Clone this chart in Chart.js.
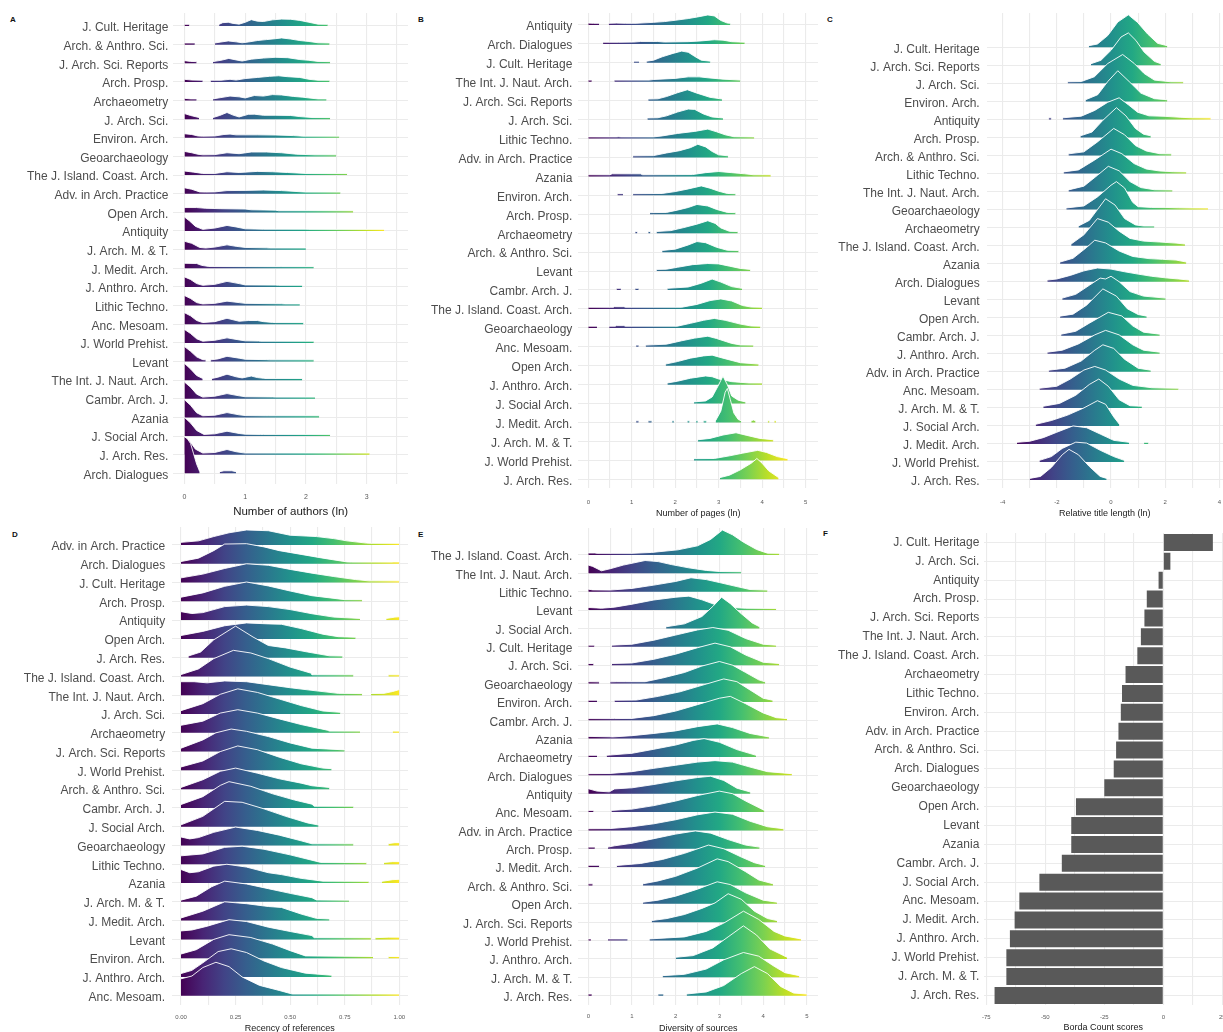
<!DOCTYPE html>
<html>
<head>
<meta charset="utf-8">
<script src="https://cdn.jsdelivr.net/npm/chart.js@4.4.1/dist/chart.umd.min.js"></script>
<style>
  html, body { margin: 0; padding: 0; background: #fff; overflow: hidden; width: 1223px; height: 1032px; }
  .tag { position: absolute; font: bold 8px 'Liberation Sans', Arial, sans-serif; color: #111; }
</style>
</head>
<body>
<div class="tag" style="left:10px;top:15px">A</div>
<div class="tag" style="left:418px;top:15px">B</div>
<div class="tag" style="left:827px;top:15px">C</div>
<div class="tag" style="left:12px;top:530px">D</div>
<div class="tag" style="left:418px;top:530px">E</div>
<div class="tag" style="left:823px;top:529px">F</div>
<script>
// ---- data (ridges: [x, height in row units], null = gap) ----
const labelsA = ['J. Cult. Heritage', 'Arch. & Anthro. Sci.', 'J. Arch. Sci. Reports', 'Arch. Prosp.', 'Archaeometry',
  'J. Arch. Sci.', 'Environ. Arch.', 'Geoarchaeology', 'The J. Island. Coast. Arch.', 'Adv. in Arch. Practice',
  'Open Arch.', 'Antiquity', 'J. Arch. M. & T.', 'J. Medit. Arch.', 'J. Anthro. Arch.', 'Lithic Techno.',
  'Anc. Mesoam.', 'J. World Prehist.', 'Levant', 'The Int. J. Naut. Arch.', 'Cambr. Arch. J.', 'Azania',
  'J. Social Arch.', 'J. Arch. Res.', 'Arch. Dialogues'];
const ridgesA = [
  [[0,0.06],[0.08,0.06],[0.3,null],[0.57,0.08],[0.63,0.18],[0.72,0.2],[0.8,0.14],[0.9,0.1],[1.0,0.2],[1.1,0.34],[1.2,0.26],[1.3,0.24],[1.45,0.33],[1.6,0.37],[1.75,0.36],[1.9,0.3],[2.05,0.2],[2.2,0.1],[2.36,0.06]],
  [[0,0.06],[0.17,0.06],[0.3,null],[0.5,0.06],[0.6,0.14],[0.72,0.2],[0.85,0.15],[0.95,0.1],[1.05,0.14],[1.2,0.22],[1.35,0.27],[1.5,0.32],[1.6,0.36],[1.75,0.3],[1.9,0.22],[2.05,0.17],[2.2,0.1],[2.39,0.06]],
  [[0,0.14],[0.1,0.1],[0.2,0.06],[0.3,null],[0.47,0.06],[0.6,0.16],[0.73,0.26],[0.85,0.18],[0.95,0.12],[1.1,0.22],[1.3,0.28],[1.5,0.32],[1.7,0.3],[1.9,0.2],[2.05,0.16],[2.2,0.1],[2.4,0.06]],
  [[0,0.14],[0.12,0.1],[0.3,0.06],[0.36,null],[0.43,0.06],[0.6,0.08],[0.75,0.14],[0.85,0.1],[1.0,0.18],[1.2,0.24],[1.4,0.3],[1.55,0.33],[1.7,0.28],[1.9,0.24],[2.05,0.14],[2.2,0.09],[2.39,0.06]],
  [[0,0.12],[0.1,0.09],[0.2,0.06],[0.3,null],[0.47,0.06],[0.6,0.16],[0.75,0.24],[0.9,0.2],[1.0,0.14],[1.15,0.27],[1.3,0.24],[1.45,0.32],[1.6,0.3],[1.8,0.22],[1.95,0.18],[2.1,0.12],[2.2,0.08],[2.34,0.06]],
  [[0,0.3],[0.1,0.2],[0.24,0.06],[0.35,null],[0.47,0.06],[0.58,0.2],[0.7,0.36],[0.8,0.22],[0.9,0.12],[1.05,0.26],[1.15,0.27],[1.3,0.21],[1.5,0.21],[1.75,0.2],[1.9,0.14],[2.1,0.09],[2.4,0.06]],
  [[0,0.22],[0.12,0.18],[0.22,0.1],[0.3,0.06],[0.5,0.1],[0.65,0.18],[0.75,0.2],[0.85,0.16],[1.2,0.16],[1.5,0.15],[1.8,0.12],[1.95,0.08],[2.15,0.07],[2.55,0.06]],
  [[0,0.27],[0.12,0.2],[0.22,0.12],[0.3,0.06],[0.5,0.1],[0.7,0.2],[0.9,0.15],[1.1,0.24],[1.35,0.24],[1.6,0.2],[1.85,0.12],[2.15,0.08],[2.5,0.06]],
  [[0,0.22],[0.15,0.16],[0.3,0.06],[0.5,0.09],[0.7,0.18],[0.9,0.14],[1.2,0.2],[1.45,0.18],[1.7,0.14],[2.0,0.08],[2.1,0.06],[2.68,0.06]],
  [[0,0.32],[0.12,0.24],[0.25,0.1],[0.35,0.07],[0.5,0.1],[0.7,0.17],[1.0,0.18],[1.3,0.2],[1.6,0.17],[1.95,0.1],[2.0,0.06],[2.57,0.06]],
  [[0,0.26],[0.2,0.26],[0.35,0.22],[0.6,0.2],[1.0,0.18],[1.1,0.14],[1.5,0.12],[1.55,0.08],[2.05,0.07],[2.78,0.06]],
  [[0,0.75],[0.08,0.55],[0.18,0.25],[0.3,0.06],[0.5,0.16],[0.7,0.3],[0.85,0.22],[1.0,0.12],[1.3,0.1],[2.0,0.1],[2.05,0.06],[3.29,0.06]],
  [[0,0.45],[0.12,0.34],[0.25,0.12],[0.35,0.06],[0.5,0.14],[0.7,0.26],[0.85,0.18],[1.0,0.12],[1.35,0.1],[1.4,0.06],[2.0,0.06]],
  [[0,0.27],[0.2,0.26],[0.28,0.16],[0.4,0.1],[1.58,0.09],[1.6,0.06],[2.13,0.06]],
  [[0,0.54],[0.1,0.4],[0.2,0.18],[0.3,0.06],[0.5,0.14],[0.7,0.3],[0.9,0.18],[1.0,0.11],[1.5,0.1],[1.55,0.06],[1.94,0.06]],
  [[0,0.54],[0.1,0.38],[0.2,0.16],[0.3,0.06],[0.5,0.12],[0.7,0.24],[0.9,0.16],[1.0,0.12],[1.6,0.1],[1.65,0.06],[1.9,0.06]],
  [[0,0.62],[0.1,0.45],[0.2,0.2],[0.3,0.06],[0.5,0.14],[0.7,0.32],[0.9,0.16],[1.05,0.2],[1.2,0.2],[1.3,0.14],[1.45,0.1],[1.5,0.06],[1.96,0.06]],
  [[0,0.72],[0.1,0.5],[0.2,0.22],[0.3,0.06],[0.5,0.14],[0.7,0.27],[0.9,0.16],[1.0,0.11],[1.22,0.1],[1.25,0.06],[2.13,0.06]],
  [[0,0.8],[0.1,0.55],[0.2,0.25],[0.3,0.1],[0.35,0.06],[0.38,null],[0.43,0.06],[0.55,0.14],[0.7,0.28],[0.9,0.18],[1.0,0.12],[1.35,0.1],[1.4,0.06],[2.13,0.06]],
  [[0,0.9],[0.1,0.6],[0.2,0.25],[0.3,0.06],[0.38,null],[0.45,0.06],[0.55,0.16],[0.7,0.32],[0.85,0.18],[0.95,0.12],[1.1,0.22],[1.2,0.14],[1.3,0.1],[1.32,0.06],[1.94,0.06]],
  [[0,0.9],[0.1,0.62],[0.2,0.25],[0.3,0.06],[0.5,0.14],[0.7,0.28],[0.9,0.16],[1.0,0.11],[1.45,0.1],[1.5,0.06],[2.15,0.06]],
  [[0,0.95],[0.1,0.65],[0.2,0.25],[0.3,0.06],[0.5,0.12],[0.7,0.26],[0.9,0.14],[1.0,0.1],[1.33,0.09],[1.38,0.06],[2.22,0.06]],
  [[0,1.0],[0.1,0.7],[0.2,0.3],[0.32,0.06],[0.5,0.12],[0.7,0.26],[0.9,0.14],[1.0,0.1],[1.25,0.09],[1.3,0.06],[2.4,0.06]],
  [[0,0.95],[0.08,0.75],[0.18,0.3],[0.3,0.08],[0.5,0.12],[0.7,0.28],[0.85,0.16],[0.97,0.1],[1.0,0.06],[3.05,0.06]],
  [[0,1.96],[0.05,1.85],[0.1,1.6],[0.15,1.05],[0.2,0.5],[0.25,0.1],[0.4,null],[0.58,0.08],[0.65,0.14],[0.78,0.14],[0.85,0.08]]
];
const gridA = [0, 0.5, 1, 1.5, 2, 2.5, 3, 3.5];
const ticksA = [0, 1, 2, 3];

const labelsB = ['Antiquity', 'Arch. Dialogues', 'J. Cult. Heritage', 'The Int. J. Naut. Arch.', 'J. Arch. Sci. Reports',
  'J. Arch. Sci.', 'Lithic Techno.', 'Adv. in Arch. Practice', 'Azania', 'Environ. Arch.', 'Arch. Prosp.',
  'Archaeometry', 'Arch. & Anthro. Sci.', 'Levant', 'Cambr. Arch. J.', 'The J. Island. Coast. Arch.',
  'Geoarchaeology', 'Anc. Mesoam.', 'Open Arch.', 'J. Anthro. Arch.', 'J. Social Arch.', 'J. Medit. Arch.',
  'J. Arch. M. & T.', 'J. World Prehist.', 'J. Arch. Res.'];
const ridgesB = [
  [[0,0.1],[0.12,0.08],[0.25,0.06],[0.35,null],[0.47,0.06],[0.65,0.1],[0.85,0.08],[1.1,0.08],[1.5,0.14],[1.75,0.18],[2.0,0.25],[2.3,0.34],[2.55,0.44],[2.75,0.53],[2.9,0.48],[3.05,0.24],[3.2,0.1],[3.27,0.06]],
  [[0.34,0.06],[0.7,0.08],[1.05,0.1],[1.2,0.13],[1.6,0.13],[1.75,0.1],[2.3,0.12],[2.6,0.16],[2.9,0.22],[3.1,0.2],[3.3,0.12],[3.6,0.06]],
  [[1.05,0.06],[1.17,0.06],[1.25,null],[1.34,0.06],[1.5,0.14],[1.7,0.32],[1.95,0.5],[2.15,0.62],[2.3,0.56],[2.45,0.34],[2.6,0.14],[2.81,0.06]],
  [[0,0.06],[0.08,0.06],[0.3,null],[0.6,0.06],[1.4,0.08],[1.5,0.12],[2.0,0.18],[2.3,0.26],[2.55,0.26],[2.8,0.2],[3.1,0.14],[3.5,0.06]],
  [[1.38,0.06],[1.6,0.1],[1.8,0.22],[2.05,0.42],[2.28,0.58],[2.5,0.4],[2.8,0.18],[3.08,0.06]],
  [[1.36,0.06],[1.6,0.1],[1.8,0.2],[2.05,0.4],[2.3,0.56],[2.45,0.54],[2.65,0.3],[2.85,0.14],[3.1,0.06]],
  [[0,0.06],[0.65,0.06],[0.7,0.1],[0.75,0.06],[1.5,0.08],[1.7,0.14],[2.05,0.27],[2.45,0.38],[2.75,0.5],[2.95,0.36],[3.15,0.2],[3.35,0.1],[3.82,0.06]],
  [[1.03,0.06],[1.5,0.1],[1.8,0.24],[2.1,0.36],[2.35,0.52],[2.52,0.7],[2.7,0.56],[2.85,0.32],[3.0,0.14],[3.22,0.06]],
  [[0,0.06],[0.5,0.06],[0.55,0.14],[1.2,0.14],[1.25,0.07],[2.4,0.1],[2.7,0.2],[3.0,0.26],[3.3,0.2],[3.6,0.14],[3.8,0.08],[4.2,0.06]],
  [[0.67,0.07],[0.8,0.07],[0.9,null],[1.03,0.06],[1.7,0.1],[2.0,0.2],[2.3,0.34],[2.6,0.5],[2.8,0.38],[3.0,0.22],[3.2,0.1],[3.39,0.06]],
  [[1.42,0.06],[1.8,0.1],[2.05,0.22],[2.3,0.36],[2.5,0.52],[2.75,0.44],[2.95,0.26],[3.2,0.1],[3.39,0.06]],
  [[1.08,0.06],[1.13,0.06],[1.2,null],[1.38,0.06],[1.43,0.06],[1.5,null],[1.57,0.06],[1.9,0.14],[2.2,0.3],[2.5,0.48],[2.75,0.66],[2.92,0.52],[3.05,0.28],[3.25,0.1],[3.44,0.06]],
  [[1.7,0.06],[2.0,0.16],[2.3,0.38],[2.5,0.56],[2.7,0.5],[2.95,0.26],[3.2,0.1],[3.46,0.06]],
  [[1.57,0.06],[1.8,0.1],[2.05,0.2],[2.4,0.34],[2.75,0.4],[3.0,0.38],[3.25,0.26],[3.5,0.14],[3.73,0.06]],
  [[0.65,0.06],[0.75,0.06],[0.9,null],[1.08,0.06],[1.16,0.06],[1.4,null],[1.82,0.06],[2.3,0.16],[2.6,0.36],[2.85,0.58],[3.05,0.42],[3.3,0.18],[3.54,0.06]],
  [[0,0.06],[0.58,0.06],[0.6,0.12],[0.82,0.12],[0.85,0.06],[2.15,0.08],[2.5,0.24],[2.8,0.44],[3.05,0.53],[3.3,0.42],[3.55,0.18],[3.75,0.1],[4.0,0.06]],
  [[0,0.07],[0.2,0.07],[0.3,null],[0.48,0.06],[0.62,0.06],[0.65,0.12],[0.82,0.12],[0.85,0.06],[2.05,0.08],[2.35,0.24],[2.65,0.4],[2.9,0.5],[3.15,0.4],[3.5,0.2],[3.75,0.1],[3.96,0.06]],
  [[1.1,0.06],[1.16,0.06],[1.22,null],[1.32,0.06],[1.8,0.14],[2.15,0.32],[2.45,0.46],[2.75,0.56],[2.95,0.44],[3.3,0.18],[3.5,0.1],[3.8,0.06]],
  [[1.78,0.06],[2.05,0.22],[2.35,0.4],[2.65,0.52],[2.85,0.56],[3.1,0.4],[3.5,0.16],[3.92,0.06]],
  [[1.82,0.06],[2.05,0.18],[2.35,0.34],[2.7,0.46],[2.85,0.42],[3.0,0.3],[3.3,0.16],[3.7,0.09],[4.0,0.06]],
  [[2.43,0.06],[2.7,0.14],[2.85,0.35],[2.98,0.9],[3.1,1.45],[3.2,1.0],[3.3,0.4],[3.45,0.18],[3.62,0.06]],
  [[1.1,0.06],[1.16,0.06],[1.25,null],[1.38,0.06],[1.46,0.06],[1.6,null],[1.93,0.06],[1.97,0.06],[2.1,null],[2.28,0.06],[2.33,0.06],[2.4,null],[2.48,0.08],[2.52,0.06],[2.58,null],[2.65,0.06],[2.72,0.06],[2.8,null],[2.93,0.1],[3.05,0.6],[3.15,1.6],[3.2,1.8],[3.27,1.2],[3.35,0.5],[3.45,0.16],[3.52,0.06],[3.6,null],[3.75,0.08],[3.8,0.14],[3.85,0.08],[3.9,null],[4.13,0.06],[4.17,0.06],[4.22,null],[4.28,0.06],[4.32,0.06]],
  [[2.52,0.06],[2.8,0.16],[3.1,0.34],[3.4,0.46],[3.65,0.32],[3.95,0.16],[4.26,0.06]],
  [[2.43,0.06],[2.9,0.1],[3.25,0.24],[3.55,0.38],[3.9,0.53],[4.1,0.42],[4.35,0.2],[4.59,0.06]],
  [[3.03,0.06],[3.25,0.22],[3.5,0.5],[3.75,0.85],[3.88,1.1],[4.0,0.85],[4.15,0.45],[4.38,0.06]]
];
const gridB = [0, 0.5, 1, 1.5, 2, 2.5, 3, 3.5, 4, 4.5, 5];
const ticksB = [0, 1, 2, 3, 4, 5];

const labelsC = ['J. Cult. Heritage', 'J. Arch. Sci. Reports', 'J. Arch. Sci.', 'Environ. Arch.', 'Antiquity',
  'Arch. Prosp.', 'Arch. & Anthro. Sci.', 'Lithic Techno.', 'The Int. J. Naut. Arch.', 'Geoarchaeology',
  'Archaeometry', 'The J. Island. Coast. Arch.', 'Azania', 'Arch. Dialogues', 'Levant', 'Open Arch.',
  'Cambr. Arch. J.', 'J. Anthro. Arch.', 'Adv. in Arch. Practice', 'Anc. Mesoam.', 'J. Arch. M. & T.',
  'J. Social Arch.', 'J. Medit. Arch.', 'J. World Prehist.', 'J. Arch. Res.'];
const ridgesC = [
  [[-0.82,0.06],[-0.5,0.18],[-0.12,0.65],[0.25,1.4],[0.64,1.8],[0.98,1.38],[1.35,0.74],[1.72,0.22],[2.08,0.06]],
  [[-0.74,0.06],[-0.37,0.28],[0,0.83],[0.37,1.57],[0.64,1.8],[0.92,1.38],[1.22,0.74],[1.6,0.22],[1.84,0.06]],
  [[-1.6,0.06],[-1.1,0.1],[-0.61,0.37],[-0.12,1.1],[0.43,1.6],[0.86,1.1],[1.22,0.55],[1.6,0.18],[2.2,0.08],[2.67,0.06]],
  [[-0.94,0.06],[-0.49,0.37],[-0.12,1.1],[0.25,1.7],[0.67,1.1],[1.1,0.46],[1.6,0.15],[2.08,0.06]],
  [[-2.3,0.06],[-2.2,0.06],[-2.0,null],[-1.78,0.06],[-1.1,0.18],[-0.6,0.5],[-0.12,0.95],[0.3,1.2],[0.65,0.8],[0.98,0.4],[1.4,0.2],[2.0,0.17],[2.55,0.12],[3.0,0.06],[3.68,0.06]],
  [[-1.13,0.06],[-0.7,0.3],[-0.3,0.95],[0.2,1.65],[0.55,1.2],[0.9,0.5],[1.2,0.18],[1.47,0.06]],
  [[-1.57,0.06],[-1.0,0.2],[-0.5,0.75],[0.1,1.5],[0.5,1.15],[0.9,0.55],[1.3,0.25],[1.8,0.1],[2.23,0.06]],
  [[-1.75,0.06],[-1.2,0.2],[-0.6,0.75],[0,1.35],[0.4,1.1],[0.85,0.55],[1.3,0.25],[1.8,0.14],[2.3,0.1],[2.78,0.06]],
  [[-1.57,0.06],[-1.0,0.3],[-0.5,0.9],[-0.1,1.4],[0.3,1.15],[0.7,0.55],[1.1,0.22],[1.6,0.1],[2.27,0.06]],
  [[-1.65,0.06],[-1.0,0.2],[-0.5,0.7],[0,1.35],[0.2,1.55],[0.5,1.2],[0.8,0.4],[1.0,0.16],[1.5,0.12],[2.0,0.12],[2.5,0.1],[3.0,0.06],[3.58,0.06]],
  [[-1.2,0.06],[-0.8,0.4],[-0.5,1.0],[-0.2,1.6],[0.15,1.25],[0.5,0.5],[0.9,0.15],[1.2,0.08],[1.6,0.06]],
  [[-1.47,0.06],[-1.0,0.6],[-0.5,1.5],[-0.1,1.3],[0.3,0.8],[0.7,0.4],[1.2,0.25],[1.8,0.2],[2.4,0.14],[2.73,0.06]],
  [[-1.88,0.06],[-1.4,0.3],[-0.9,0.9],[-0.6,1.3],[-0.2,1.15],[0.3,0.7],[0.8,0.4],[1.4,0.28],[1.9,0.24],[2.4,0.2],[2.78,0.06]],
  [[-2.35,0.06],[-2.0,0.15],[-1.5,0.35],[-1.0,0.6],[-0.5,0.76],[0,0.7],[0.5,0.55],[1.0,0.42],[1.5,0.3],[2.1,0.2],[2.5,0.15],[2.88,0.06]],
  [[-1.8,0.06],[-1.3,0.3],[-0.8,0.8],[-0.4,1.2],[-0.2,1.15],[0,1.3],[0.3,1.0],[0.7,0.45],[1.2,0.2],[2.02,0.06]],
  [[-1.88,0.06],[-1.4,0.2],[-0.9,0.7],[-0.3,1.6],[0.2,1.2],[0.6,0.5],[1.0,0.18],[1.32,0.06]],
  [[-1.84,0.06],[-1.3,0.25],[-0.8,0.7],[-0.1,1.3],[0.4,1.1],[0.8,0.55],[1.2,0.2],[1.8,0.06]],
  [[-2.35,0.06],[-1.8,0.2],[-1.2,0.55],[-0.6,1.05],[-0.2,1.3],[0.3,1.05],[0.8,0.5],[1.2,0.2],[1.8,0.06]],
  [[-2.3,0.06],[-1.7,0.2],[-1.1,0.6],[-0.6,1.2],[-0.3,1.5],[0.1,1.3],[0.5,0.7],[1.0,0.2],[1.47,0.06]],
  [[-2.64,0.06],[-2.0,0.2],[-1.5,0.6],[-1.0,1.1],[-0.6,1.3],[-0.2,1.1],[0.3,0.6],[0.8,0.25],[1.5,0.12],[2.0,0.1],[2.49,0.06]],
  [[-2.5,0.06],[-1.9,0.25],[-1.3,0.7],[-0.8,1.3],[-0.45,1.6],[-0.1,1.2],[0.3,0.45],[0.7,0.12],[1.14,0.06]],
  [[-2.78,0.06],[-2.2,0.3],[-1.6,0.6],[-1.0,1.0],[-0.5,1.4],[-0.2,1.2],[0.1,0.5],[0.31,0.06]],
  [[-3.47,0.06],[-3.0,0.15],[-2.5,0.35],[-2.0,0.65],[-1.4,1.0],[-0.9,0.9],[-0.4,0.55],[0.1,0.2],[0.67,0.06],[1.0,null],[1.22,0.07],[1.38,0.07]],
  [[-2.64,0.06],[-2.2,0.3],[-1.8,0.75],[-1.3,1.1],[-0.9,1.05],[-0.4,0.65],[0.1,0.3],[0.49,0.06]],
  [[-3.0,0.06],[-2.6,0.2],[-2.2,0.7],[-1.8,1.4],[-1.55,1.7],[-1.2,1.4],[-0.8,0.75],[-0.4,0.2],[-0.16,0.06]]
];
const gridC = [-4, -3, -2, -1, 0, 1, 2, 3, 4];
const ticksC = [-4, -2, 0, 2, 4];

const labelsD = ['Adv. in Arch. Practice', 'Arch. Dialogues', 'J. Cult. Heritage', 'Arch. Prosp.', 'Antiquity',
  'Open Arch.', 'J. Arch. Res.', 'The J. Island. Coast. Arch.', 'The Int. J. Naut. Arch.', 'J. Arch. Sci.',
  'Archaeometry', 'J. Arch. Sci. Reports', 'J. World Prehist.', 'Arch. & Anthro. Sci.', 'Cambr. Arch. J.',
  'J. Social Arch.', 'Geoarchaeology', 'Lithic Techno.', 'Azania', 'J. Arch. M. & T.', 'J. Medit. Arch.',
  'Levant', 'Environ. Arch.', 'J. Anthro. Arch.', 'Anc. Mesoam.'];
const ridgesD = [
  [[0,0.14],[0.08,0.22],[0.15,0.45],[0.22,0.65],[0.3,0.8],[0.4,0.76],[0.5,0.52],[0.62,0.45],[0.7,0.34],[0.76,0.22],[0.85,0.1],[0.87,0.06],[1.0,0.06]],
  [[0,0.12],[0.08,0.3],[0.15,0.7],[0.2,1.05],[0.3,1.07],[0.38,0.9],[0.45,0.7],[0.55,0.5],[0.65,0.3],[0.76,0.1],[0.78,0.06],[0.97,0.06],[0.97,0.1],[1.0,0.1]],
  [[0,0.25],[0.1,0.45],[0.2,0.75],[0.3,1.0],[0.4,0.92],[0.5,0.7],[0.6,0.5],[0.7,0.32],[0.8,0.16],[0.86,0.08],[1.0,0.06]],
  [[0,0.22],[0.1,0.45],[0.2,0.8],[0.3,1.03],[0.4,0.82],[0.5,0.55],[0.6,0.3],[0.75,0.09],[0.83,0.06]],
  [[0,0.45],[0.05,0.35],[0.1,0.4],[0.2,0.72],[0.3,0.8],[0.4,0.72],[0.5,0.56],[0.6,0.34],[0.7,0.16],[0.82,0.06],[0.88,null],[0.94,0.06],[0.98,0.16],[1.0,0.18]],
  [[0,0.18],[0.1,0.4],[0.2,0.7],[0.3,0.85],[0.4,0.8],[0.46,0.78],[0.55,0.55],[0.65,0.25],[0.72,0.12],[0.8,0.06]],
  [[0.034,0.06],[0.09,0.3],[0.15,0.95],[0.25,1.68],[0.33,1.1],[0.4,0.65],[0.48,0.52],[0.58,0.3],[0.68,0.1],[0.74,0.06]],
  [[0,0.1],[0.08,0.4],[0.15,0.95],[0.24,1.39],[0.32,1.25],[0.4,0.95],[0.5,0.5],[0.6,0.16],[0.6,0.08],[0.79,0.06],[0.85,null],[0.95,0.07],[1.0,0.07]],
  [[0,0.72],[0.06,0.72],[0.12,0.66],[0.2,0.76],[0.3,0.72],[0.4,0.56],[0.5,0.4],[0.6,0.26],[0.72,0.1],[0.83,0.06],[0.86,null],[0.87,0.06],[0.93,0.1],[0.97,0.2],[1.0,0.3]],
  [[0,0.18],[0.1,0.55],[0.18,1.05],[0.26,1.34],[0.35,1.15],[0.45,0.8],[0.55,0.45],[0.65,0.16],[0.73,0.06]],
  [[0,0.4],[0.1,0.62],[0.18,1.05],[0.26,1.23],[0.35,1.05],[0.45,0.74],[0.55,0.44],[0.67,0.14],[0.68,0.06],[0.82,0.06],[0.9,null],[0.97,0.06],[1.0,0.06]],
  [[0,0.18],[0.1,0.62],[0.16,1.0],[0.23,1.2],[0.3,1.08],[0.4,0.8],[0.5,0.46],[0.6,0.18],[0.75,0.06]],
  [[0,0.18],[0.1,0.5],[0.18,1.0],[0.26,1.3],[0.35,1.1],[0.45,0.7],[0.55,0.35],[0.65,0.12],[0.69,0.06]],
  [[0,0.06],[0.1,0.5],[0.18,0.95],[0.25,1.12],[0.35,0.85],[0.45,0.55],[0.55,0.32],[0.6,0.18],[0.68,0.06]],
  [[0,0.18],[0.1,0.6],[0.18,1.2],[0.22,1.4],[0.32,1.15],[0.42,0.75],[0.52,0.42],[0.6,0.2],[0.61,0.06],[0.79,0.06]],
  [[0,0.1],[0.1,0.55],[0.2,1.35],[0.28,1.3],[0.38,0.95],[0.48,0.55],[0.58,0.2],[0.63,0.06]],
  [[0,0.45],[0.04,0.35],[0.08,0.42],[0.15,0.7],[0.25,0.98],[0.35,0.8],[0.45,0.55],[0.55,0.25],[0.6,0.08],[0.79,0.06],[0.85,null],[0.95,0.1],[0.98,0.15],[1.0,0.15]],
  [[0,0.45],[0.1,0.55],[0.2,0.9],[0.28,0.96],[0.38,0.8],[0.5,0.5],[0.64,0.1],[0.85,0.06],[0.9,null],[0.93,0.1],[0.97,0.14],[1.0,0.14]],
  [[0,0.72],[0.04,0.55],[0.08,0.6],[0.15,0.9],[0.21,1.0],[0.3,0.85],[0.4,0.55],[0.46,0.45],[0.55,0.25],[0.65,0.1],[0.86,0.06],[0.9,null],[0.92,0.08],[0.97,0.18],[1.0,0.2]],
  [[0,0.06],[0.07,0.3],[0.14,0.8],[0.2,1.1],[0.3,0.95],[0.4,0.7],[0.5,0.45],[0.6,0.22],[0.62,0.1],[0.77,0.06]],
  [[0,0.14],[0.1,0.5],[0.2,1.0],[0.3,0.9],[0.4,0.75],[0.46,0.7],[0.55,0.35],[0.62,0.12],[0.68,0.06]],
  [[0,0.45],[0.05,0.5],[0.12,0.7],[0.22,1.05],[0.3,0.95],[0.4,0.65],[0.5,0.42],[0.6,0.2],[0.61,0.08],[0.87,0.06],[0.88,null],[0.89,0.06],[0.95,0.12],[1.0,0.12]],
  [[0,0.22],[0.07,0.45],[0.15,1.0],[0.22,1.25],[0.32,1.1],[0.42,0.75],[0.5,0.4],[0.57,0.12],[0.88,0.06],[0.92,null],[0.95,0.08],[1.0,0.08]],
  [[0,0.18],[0.05,0.35],[0.1,0.75],[0.17,1.35],[0.23,1.5],[0.3,1.3],[0.38,0.85],[0.46,0.5],[0.57,0.2],[0.69,0.06]],
  [[0,0.9],[0.05,1.05],[0.1,1.5],[0.16,1.78],[0.22,1.55],[0.28,1.0],[0.36,0.55],[0.45,0.28],[0.5,0.12],[0.51,0.06],[1.0,0.06]]
];
const gridD = [0, 0.125, 0.25, 0.375, 0.5, 0.625, 0.75, 0.875, 1];
const ticksD = [0, 0.25, 0.5, 0.75, 1];

const labelsE = ['The J. Island. Coast. Arch.', 'The Int. J. Naut. Arch.', 'Lithic Techno.', 'Levant', 'J. Social Arch.',
  'J. Cult. Heritage', 'J. Arch. Sci.', 'Geoarchaeology', 'Environ. Arch.', 'Cambr. Arch. J.', 'Azania',
  'Archaeometry', 'Arch. Dialogues', 'Antiquity', 'Anc. Mesoam.', 'Adv. in Arch. Practice', 'Arch. Prosp.',
  'J. Medit. Arch.', 'Arch. & Anthro. Sci.', 'Open Arch.', 'J. Arch. Sci. Reports', 'J. World Prehist.',
  'J. Anthro. Arch.', 'J. Arch. M. & T.', 'J. Arch. Res.'];
const ridgesE = [
  [[0,0.11],[0.15,0.11],[0.2,0.06],[1.0,0.06],[1.45,0.14],[2.05,0.28],[2.5,0.5],[2.8,0.85],[3.07,1.36],[3.3,1.1],[3.55,0.7],[3.85,0.3],[4.1,0.1],[4.37,0.06]],
  [[0,0.45],[0.1,0.38],[0.3,0.14],[0.5,0.25],[0.8,0.45],[1.3,0.7],[1.6,0.64],[1.9,0.48],[2.3,0.3],[2.7,0.16],[3.0,0.1],[3.5,0.06]],
  [[0,0.14],[0.1,0.1],[0.5,0.09],[1.0,0.18],[1.5,0.36],[2.0,0.56],[2.35,0.76],[2.7,0.66],[3.0,0.5],[3.4,0.28],[3.7,0.12],[4.1,0.06]],
  [[0,0.14],[0.18,0.12],[0.3,0.1],[0.6,0.16],[1.0,0.32],[1.5,0.55],[2.0,0.7],[2.3,0.76],[2.6,0.56],[2.9,0.3],[3.3,0.14],[3.6,0.1],[4.3,0.06]],
  [[1.78,0.06],[2.2,0.25],[2.6,0.65],[2.85,1.2],[3.05,1.7],[3.25,1.35],[3.5,0.8],[3.75,0.3],[3.92,0.06]],
  [[0,0.07],[0.14,0.07],[0.3,null],[0.54,0.06],[1.0,0.14],[1.5,0.36],[2.0,0.64],[2.5,0.92],[2.85,1.05],[3.2,0.9],[3.6,0.45],[4.0,0.14],[4.3,0.06]],
  [[0,0.07],[0.12,0.07],[0.3,null],[0.54,0.06],[1.0,0.12],[1.5,0.32],[2.0,0.6],[2.5,0.95],[2.9,1.2],[3.25,1.0],[3.6,0.55],[4.0,0.16],[4.37,0.06]],
  [[0,0.1],[0.25,0.08],[0.35,null],[0.5,0.06],[0.65,0.1],[0.85,0.1],[1.3,0.1],[1.7,0.3],[2.2,0.6],[2.6,0.95],[3.0,1.2],[3.3,1.0],[3.6,0.6],[3.9,0.2],[4.05,0.06]],
  [[0,0.07],[0.2,0.07],[0.35,null],[0.6,0.06],[1.1,0.1],[1.6,0.3],[2.1,0.55],[2.6,0.9],[3.1,1.25],[3.4,1.1],[3.7,0.65],[4.0,0.2],[4.22,0.06]],
  [[0,0.06],[0.6,0.06],[1.0,0.1],[1.5,0.25],[2.0,0.5],[2.5,0.85],[3.0,1.2],[3.25,1.3],[3.6,0.9],[4.0,0.4],[4.3,0.14],[4.55,0.06]],
  [[0,0.12],[0.5,0.1],[0.55,0.07],[1.0,0.16],[1.5,0.28],[2.0,0.42],[2.5,0.65],[2.95,0.8],[3.3,0.6],[3.7,0.28],[4.14,0.06]],
  [[0,0.07],[0.2,0.07],[0.3,null],[0.42,0.06],[1.0,0.2],[1.5,0.42],[2.0,0.65],[2.4,0.9],[2.65,1.0],[3.0,0.8],[3.4,0.4],[3.84,0.06]],
  [[0,0.06],[0.5,0.1],[1.0,0.2],[1.5,0.38],[2.0,0.55],[2.5,0.72],[2.9,0.8],[3.3,0.72],[3.7,0.45],[4.1,0.2],[4.66,0.06]],
  [[0,0.27],[0.2,0.14],[0.48,0.1],[0.6,0.26],[1.0,0.32],[1.5,0.5],[2.0,0.7],[2.5,0.88],[2.8,0.95],[3.1,0.72],[3.4,0.3],[3.71,0.06]],
  [[0,0.07],[0.12,0.07],[0.3,null],[0.53,0.06],[1.0,0.16],[1.5,0.35],[2.0,0.6],[2.5,0.9],[3.0,1.14],[3.3,1.0],[3.6,0.6],[4.03,0.06]],
  [[0,0.06],[0.5,0.1],[1.0,0.2],[1.5,0.36],[2.0,0.58],[2.5,0.85],[2.9,1.0],[3.3,0.88],[3.7,0.5],[4.1,0.2],[4.47,0.06]],
  [[0,0.08],[0.15,0.08],[0.3,null],[0.45,0.06],[0.6,0.16],[1.0,0.3],[1.5,0.55],[2.0,0.8],[2.45,0.97],[2.8,0.85],[3.2,0.5],[3.6,0.2],[3.92,0.06]],
  [[0,0.1],[0.25,0.1],[0.4,null],[0.65,0.06],[1.2,0.2],[1.7,0.42],[2.2,0.75],[2.75,1.2],[3.1,1.0],[3.5,0.55],[3.8,0.24],[4.05,0.06]],
  [[0,0.07],[0.1,0.07],[0.3,null],[1.25,0.06],[1.6,0.25],[2.0,0.5],[2.5,0.95],[2.95,1.45],[3.2,1.3],[3.6,0.75],[3.9,0.3],[4.23,0.06]],
  [[1.25,0.06],[1.6,0.2],[2.0,0.42],[2.5,0.8],[2.95,1.2],[3.25,1.05],[3.6,0.6],[4.0,0.2],[4.32,0.06]],
  [[1.45,0.06],[1.8,0.2],[2.2,0.42],[2.6,0.75],[2.9,1.05],[3.2,1.55],[3.5,1.25],[3.8,0.6],[4.1,0.2],[4.32,0.06]],
  [[0,0.07],[0.06,0.07],[0.2,null],[0.45,0.08],[0.9,0.08],[1.1,null],[1.4,0.06],[2.2,0.2],[2.7,0.5],[3.1,0.95],[3.55,1.6],[3.9,1.15],[4.25,0.5],[4.5,0.25],[4.87,0.06]],
  [[2.0,0.06],[2.4,0.18],[2.85,0.6],[3.2,1.2],[3.55,1.8],[3.85,1.3],[4.15,0.55],[4.55,0.06]],
  [[1.7,0.06],[2.2,0.16],[2.7,0.45],[3.1,0.95],[3.55,1.35],[3.9,1.15],[4.25,0.6],[4.5,0.25],[4.83,0.06]],
  [[0,0.07],[0.08,0.07],[0.3,null],[1.6,0.08],[1.72,0.08],[1.9,null],[2.25,0.06],[2.7,0.2],[3.1,0.55],[3.5,1.2],[3.8,1.58],[4.1,1.2],[4.4,0.5],[4.7,0.14],[5.0,0.06]]
];
const gridE = [0, 0.5, 1, 1.5, 2, 2.5, 3, 3.5, 4, 4.5, 5];
const ticksE = [0, 1, 2, 3, 4, 5];

const labelsF = ['J. Cult. Heritage', 'J. Arch. Sci.', 'Antiquity', 'Arch. Prosp.', 'J. Arch. Sci. Reports',
  'The Int. J. Naut. Arch.', 'The J. Island. Coast. Arch.', 'Archaeometry', 'Lithic Techno.', 'Environ. Arch.',
  'Adv. in Arch. Practice', 'Arch. & Anthro. Sci.', 'Arch. Dialogues', 'Geoarchaeology', 'Open Arch.', 'Levant',
  'Azania', 'Cambr. Arch. J.', 'J. Social Arch.', 'Anc. Mesoam.', 'J. Medit. Arch.', 'J. Anthro. Arch.',
  'J. World Prehist.', 'J. Arch. M. & T.', 'J. Arch. Res.'];
const scoresF = [21, 3, -2, -7, -8, -9.5, -11, -16, -17.5, -18, -19, -20, -21, -25, -37, -39, -39, -43,
  -52.5, -61, -63, -65, -66.5, -66.5, -71.5];
const gridF = [-75, -62.5, -50, -37.5, -25, -12.5, 0, 12.5, 25];
const ticksF = [-75, -50, -25, 0, 25];

// ---- drawing ----
const VIRIDIS = ['#440154', '#482475', '#414487', '#355f8d', '#2a788e', '#21918c',
  '#22a884', '#44bf70', '#7ad151', '#bddf26', '#fde725'];
const FONT = "'Liberation Sans', Arial, Helvetica, sans-serif";
const GRID = '#ebebeb';
const MIN_H = 0.09;
const PAD_TOP = 25, PAD_RIGHT = 30;

function makeCanvas(left, top, w, h) {
  const c = document.createElement('canvas');
  c.width = w;
  c.height = h;
  c.style.cssText = `position:absolute;left:${left}px;top:${top}px;width:${w}px;height:${h}px`;
  document.body.appendChild(c);
  return c;
}

function viridis(chart, domain) {
  const x = chart.scales.x;
  if (!x || !chart.chartArea) return VIRIDIS[5];
  if (!chart.$grad) {
    const g = chart.ctx.createLinearGradient(x.getPixelForValue(domain[0]), 0, x.getPixelForValue(domain[1]), 0);
    VIRIDIS.forEach((c, k) => g.addColorStop(k / (VIRIDIS.length - 1), c));
    chart.$grad = g;
  }
  return chart.$grad;
}

function geometry(p) {
  const canvasTop = p.T - PAD_TOP;
  const canvasH = Math.round(p.titleY + 12 - canvasTop);
  const canvasW = Math.round(p.R + PAD_RIGHT - p.left);
  return { canvasTop, canvasH, canvasW, bottom: canvasTop + canvasH };
}

function xScale(p, g) {
  const lh = p.titleSize * 1.2;
  return {
    type: 'linear',
    min: (p.L - p.zero) / p.perUnit,
    max: (p.R - p.zero) / p.perUnit,
    afterBuildTicks: s => { s.ticks = p.grid.map(v => ({ value: v })); },
    afterFit: s => { s.height = g.bottom - p.B; },
    grid: { color: GRID, lineWidth: 1.1, drawTicks: false },
    border: { display: false },
    ticks: {
      autoSkip: false, maxRotation: 0,
      padding: p.tickY - p.B - p.tickSize * 0.6,
      font: { family: FONT, size: p.tickSize },
      color: '#5a5a5a',
      callback: v => (p.ticks.includes(v) ? p.fmt(v) : '')
    },
    title: {
      display: true, text: p.title, color: '#1a1a1a',
      font: { family: FONT, size: p.titleSize },
      padding: { top: 0, bottom: g.bottom - p.titleY - lh / 2 }
    }
  };
}

function baseOptions() {
  return {
    responsive: false,
    animation: false,
    events: [],
    layout: { padding: { top: PAD_TOP, right: PAD_RIGHT, left: 0, bottom: 0 } },
    plugins: { legend: { display: false }, tooltip: { enabled: false } }
  };
}

function ridgePanel(p) {
  const g = geometry(p);
  const n = p.labels.length;
  const canvas = makeCanvas(p.left, g.canvasTop, g.canvasW, g.canvasH);
  const datasets = p.ridges.map((pts, i) => {
    const base = n - 1 - i;
    return {
      data: pts.map(([x, h]) => ({ x, y: h === null ? null : base + Math.max(h, MIN_H) })),
      fill: { value: base },
      backgroundColor: ctx => viridis(ctx.chart, p.domain),
      borderColor: '#ffffff',
      borderWidth: 0.9,
      pointRadius: 0,
      tension: 0,
      spanGaps: false,
      order: base
    };
  });
  const options = baseOptions();
  options.scales = {
    x: xScale(p, g),
    y: {
      type: 'linear',
      min: (n - 1) - (p.B - p.top0) / p.step,
      max: (n - 1) + (p.top0 - p.T) / p.step,
      afterBuildTicks: s => { s.ticks = p.labels.map((_, k) => ({ value: k })); },
      afterFit: s => { s.width = p.L - p.left; },
      grid: { color: GRID, lineWidth: 1.1, drawTicks: false },
      border: { display: false },
      ticks: {
        autoSkip: false, padding: p.labelPad, labelOffset: 2,
        font: { family: FONT, size: 12 }, color: '#4d4d4d',
        callback: v => p.labels[n - 1 - Math.round(v)]
      }
    }
  };
  new Chart(canvas, { type: 'line', data: { datasets }, options });
}

const intFmt = v => String(v);

ridgePanel({ labels: labelsA, ridges: ridgesA, grid: gridA, ticks: ticksA, fmt: intFmt, domain: [0, 3.3],
  left: 0, L: 173.3, R: 408, T: 13, B: 484, zero: 184.5, perUnit: 60.7, top0: 26, step: 18.64,
  labelPad: 5, tickY: 496.7, tickSize: 7, title: 'Number of authors (ln)', titleY: 511.7, titleSize: 11.5 });

ridgePanel({ labels: labelsB, ridges: ridgesB, grid: gridB, ticks: ticksB, fmt: intFmt, domain: [0, 4.6],
  left: 410, L: 578.3, R: 818, T: 13, B: 488, zero: 588.3, perUnit: 43.45, top0: 25, step: 18.93,
  labelPad: 6, tickY: 502.3, tickSize: 6, title: 'Number of pages (ln)', titleY: 513.3, titleSize: 9 });

ridgePanel({ labels: labelsC, ridges: ridgesC, grid: gridC, ticks: ticksC, fmt: intFmt, domain: [-3.6, 3.7],
  left: 820, L: 986.7, R: 1223, T: 13, B: 488, zero: 1111, perUnit: 27.1, top0: 47.3, step: 18.03,
  labelPad: 7, tickY: 502.3, tickSize: 6, title: 'Relative title length (ln)', titleY: 513.3, titleSize: 9 });

ridgePanel({ labels: labelsD, ridges: ridgesD, grid: gridD, ticks: ticksD, fmt: v => v.toFixed(2), domain: [0, 1],
  left: 0, L: 171.7, R: 408, T: 527, B: 1005, zero: 181, perUnit: 218.3, top0: 545, step: 18.78,
  labelPad: 6.5, tickY: 1017.3, tickSize: 6, title: 'Recency of references', titleY: 1028.3, titleSize: 9 });

ridgePanel({ labels: labelsE, ridges: ridgesE, grid: gridE, ticks: ticksE, fmt: intFmt, domain: [0, 5],
  left: 410, L: 578.3, R: 818, T: 528, B: 1005, zero: 588.3, perUnit: 43.7, top0: 555, step: 18.36,
  labelPad: 6, tickY: 1016.7, tickSize: 6, title: 'Diversity of sources', titleY: 1028.3, titleSize: 9 });

// panel F: Borda count bars
(function () {
  const p = { grid: gridF, ticks: ticksF, fmt: intFmt, left: 820, L: 983.7, R: 1223, T: 533.3, B: 1005.2,
    zero: 1163.3, perUnit: 2.36, tickY: 1017.3, tickSize: 6, title: 'Borda Count scores', titleY: 1028.3, titleSize: 9 };
  const g = geometry(p);
  const canvas = makeCanvas(p.left, g.canvasTop, g.canvasW, g.canvasH);
  const options = baseOptions();
  options.indexAxis = 'y';
  options.scales = {
    x: xScale(p, g),
    y: {
      type: 'category',
      offset: true,
      afterFit: s => { s.width = p.L - p.left; },
      grid: { color: GRID, lineWidth: 1.1, drawTicks: false, offset: false },
      border: { display: false },
      ticks: { autoSkip: false, padding: 4.4, font: { family: FONT, size: 12 }, color: '#4d4d4d' }
    }
  };
  new Chart(canvas, {
    type: 'bar',
    data: {
      labels: labelsF,
      datasets: [{ data: scoresF, backgroundColor: '#595959', barPercentage: 0.9, categoryPercentage: 1 }]
    },
    options
  });
})();
</script>
</body>
</html>
